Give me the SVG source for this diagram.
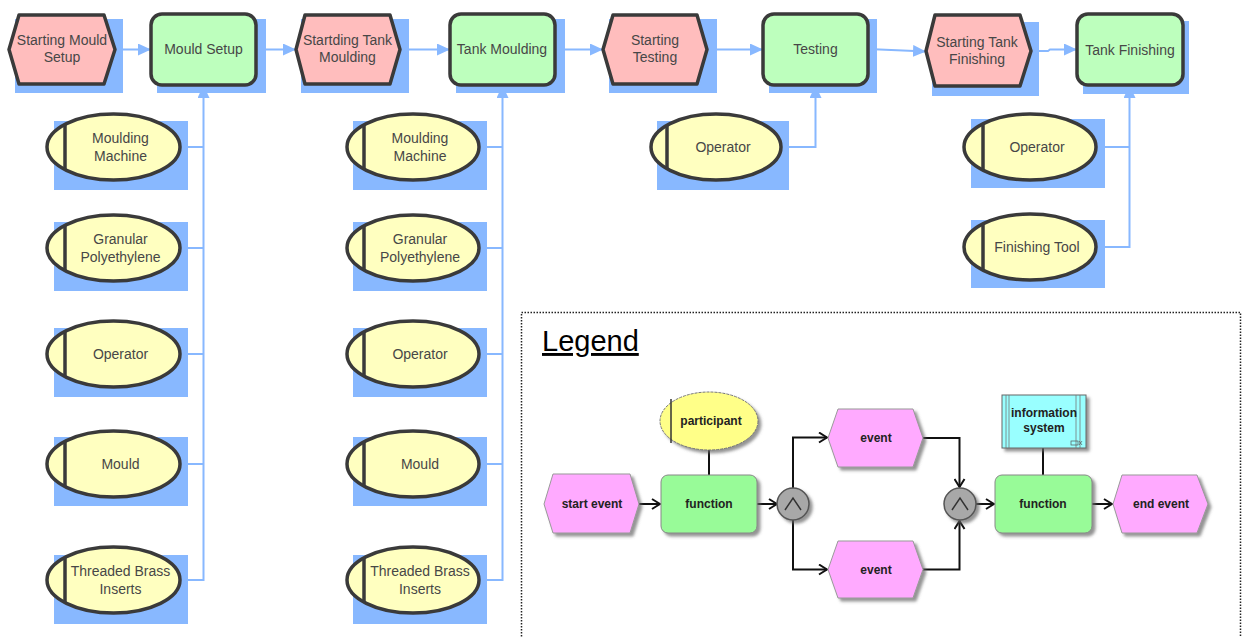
<svg xmlns="http://www.w3.org/2000/svg" width="1242" height="637" viewBox="0 0 1242 637">
<defs>
<style>
.sh{fill:#88B8FF}
.ev{fill:#FFBDBD;stroke:#3A3A3A;stroke-width:3.5;stroke-linejoin:round}
.fn{fill:#BDFFBD;stroke:#3A3A3A;stroke-width:3.5}
.rs{fill:#FFFFC0;stroke:#3A3A3A;stroke-width:3.5}
.bar{stroke:#3A3A3A;stroke-width:3.5}
.t{font-family:"Liberation Sans",Arial,sans-serif;font-size:14px;fill:#474747;text-anchor:middle}
.c{fill:none;stroke:#88B8FF;stroke-width:2}
.lt{font-family:"Liberation Sans",Arial,sans-serif;font-size:12px;font-weight:bold;fill:#222;text-anchor:middle}
.lc{fill:none;stroke:#111;stroke-width:2}
.lev{fill:#FFAAFF;stroke:#999;stroke-width:1;filter:url(#ds)}
.lfn{fill:#98FB98;stroke:#888;stroke-width:1;filter:url(#ds)}
.lgate{fill:#A8A8A8;stroke:#555;stroke-width:1.5;filter:url(#ds)}
.chev{fill:none;stroke:#333;stroke-width:1.5}
</style>
<filter id="ds" x="-20%" y="-20%" width="150%" height="150%">
<feDropShadow dx="3" dy="3" stdDeviation="1.5" flood-color="#666" flood-opacity="0.7"/>
</filter>
<marker id="ab" viewBox="0 0 13 12" refX="13" refY="6" markerWidth="13" markerHeight="12" markerUnits="userSpaceOnUse" orient="auto">
<path d="M0,0 L13,6 L0,12 Z" fill="#88B8FF"/>
</marker>
<marker id="ak" viewBox="0 0 10 12" refX="9" refY="6" markerWidth="10" markerHeight="12" markerUnits="userSpaceOnUse" orient="auto">
<path d="M1,1 L9,6 L1,11" fill="none" stroke="#111" stroke-width="2"/>
</marker>
</defs>
<rect width="1242" height="637" fill="#FFFFFF"/>

<g id="connectors">
<path class="c" d="M115,49.5 H151" marker-end="url(#ab)"/>
<path class="c" d="M256,49.5 H296" marker-end="url(#ab)"/>
<path class="c" d="M400,49.5 H450" marker-end="url(#ab)"/>
<path class="c" d="M555,49.5 H603" marker-end="url(#ab)"/>
<path class="c" d="M707,49.5 H763" marker-end="url(#ab)"/>
<path class="c" d="M868,49 L926,51.5" marker-end="url(#ab)"/>
<path class="c" d="M1031,51 H1048 L1050,49.5 H1077" marker-end="url(#ab)"/>
<path class="c" d="M180,147 H203.5"/>
<path class="c" d="M180,248 H203.5"/>
<path class="c" d="M180,354 H203.5"/>
<path class="c" d="M180,464 H203.5"/>
<path class="c" d="M180,580 H203.5 V85" marker-end="url(#ab)"/>
<path class="c" d="M479,147 H502.5"/>
<path class="c" d="M479,248 H502.5"/>
<path class="c" d="M479,354 H502.5"/>
<path class="c" d="M479,464 H502.5"/>
<path class="c" d="M479,580 H502.5 V85" marker-end="url(#ab)"/>
<path class="c" d="M782,147 H815.5 V85" marker-end="url(#ab)"/>
<path class="c" d="M1096,147 H1129.5"/>
<path class="c" d="M1096,247 H1129.5 V85" marker-end="url(#ab)"/>
</g>

<g id="n-starting-mould-setup">
<rect class="sh" x="15" y="19" width="108" height="74"/>
<path class="ev" d="M9,49.5 L19,15 L104,15 L115,49.5 L104,84 L19,84 Z"/>
<text class="t" x="62" y="45">Starting Mould</text>
<text class="t" x="62" y="62">Setup</text>
</g>
<g id="n-mould-setup">
<rect class="sh" x="157" y="19" width="109" height="74"/>
<rect class="fn" x="151" y="14" width="105" height="71" rx="11"/>
<text class="t" x="203.5" y="54">Mould Setup</text>
</g>
<g id="n-startding-tank-moulding">
<rect class="sh" x="301" y="19" width="108" height="74"/>
<path class="ev" d="M296,49.5 L305,15 L390,15 L400,49.5 L390,84 L305,84 Z"/>
<text class="t" x="347.5" y="45">Startding Tank</text>
<text class="t" x="347.5" y="62">Moulding</text>
</g>
<g id="n-tank-moulding">
<rect class="sh" x="456" y="19" width="109" height="74"/>
<rect class="fn" x="450" y="14" width="105" height="71" rx="11"/>
<text class="t" x="502" y="54">Tank Moulding</text>
</g>
<g id="n-starting-testing">
<rect class="sh" x="609" y="19" width="108" height="74"/>
<path class="ev" d="M603,49.5 L613,15 L697,15 L707,49.5 L697,84 L613,84 Z"/>
<text class="t" x="655" y="45">Starting</text>
<text class="t" x="655" y="62">Testing</text>
</g>
<g id="n-testing">
<rect class="sh" x="769" y="19" width="108" height="74"/>
<rect class="fn" x="763" y="14" width="105" height="71" rx="11"/>
<text class="t" x="815.5" y="54">Testing</text>
</g>
<g id="n-starting-tank-finishing">
<rect class="sh" x="932" y="22" width="107" height="74"/>
<path class="ev" d="M926,51 L935,15 L1020,15 L1031,51 L1020,86 L935,86 Z"/>
<text class="t" x="977" y="47">Starting Tank</text>
<text class="t" x="977" y="64">Finishing</text>
</g>
<g id="n-tank-finishing">
<rect class="sh" x="1083" y="21" width="106" height="73"/>
<rect class="fn" x="1077" y="14" width="106" height="71" rx="11"/>
<text class="t" x="1130" y="55">Tank Finishing</text>
</g>

<g id="n-ms-moulding-machine">
<rect class="sh" x="54" y="121" width="134" height="69"/>
<ellipse class="rs" cx="113.5" cy="147" rx="66.5" ry="33"/>
<line class="bar" x1="65" y1="124.5" x2="65" y2="169.5"/>
<text class="t" x="120.5" y="143">Moulding</text>
<text class="t" x="120.5" y="161">Machine</text>
</g>
<g id="n-ms-granular-polyethylene">
<rect class="sh" x="54" y="222" width="134" height="69"/>
<ellipse class="rs" cx="113.5" cy="248" rx="66.5" ry="33"/>
<line class="bar" x1="65" y1="225.5" x2="65" y2="270.5"/>
<text class="t" x="120.5" y="244">Granular</text>
<text class="t" x="120.5" y="262">Polyethylene</text>
</g>
<g id="n-ms-operator">
<rect class="sh" x="54" y="328" width="134" height="69"/>
<ellipse class="rs" cx="113.5" cy="354" rx="66.5" ry="33"/>
<line class="bar" x1="65" y1="331.5" x2="65" y2="376.5"/>
<text class="t" x="120.5" y="359">Operator</text>
</g>
<g id="n-ms-mould">
<rect class="sh" x="54" y="437" width="134" height="69"/>
<ellipse class="rs" cx="113.5" cy="464" rx="66.5" ry="33"/>
<line class="bar" x1="65" y1="441.5" x2="65" y2="486.5"/>
<text class="t" x="120.5" y="469">Mould</text>
</g>
<g id="n-ms-threaded-brass-inserts">
<rect class="sh" x="54" y="555" width="134" height="69"/>
<ellipse class="rs" cx="113.5" cy="580" rx="66.5" ry="33"/>
<line class="bar" x1="65" y1="557.5" x2="65" y2="602.5"/>
<text class="t" x="120.5" y="576">Threaded Brass</text>
<text class="t" x="120.5" y="594">Inserts</text>
</g>

<g id="n-tm-moulding-machine">
<rect class="sh" x="353" y="121" width="134" height="69"/>
<ellipse class="rs" cx="413" cy="147" rx="66" ry="33"/>
<line class="bar" x1="364" y1="124.5" x2="364" y2="169.5"/>
<text class="t" x="420" y="143">Moulding</text>
<text class="t" x="420" y="161">Machine</text>
</g>
<g id="n-tm-granular-polyethylene">
<rect class="sh" x="353" y="222" width="134" height="69"/>
<ellipse class="rs" cx="413" cy="248" rx="66" ry="33"/>
<line class="bar" x1="364" y1="225.5" x2="364" y2="270.5"/>
<text class="t" x="420" y="244">Granular</text>
<text class="t" x="420" y="262">Polyethylene</text>
</g>
<g id="n-tm-operator">
<rect class="sh" x="353" y="328" width="134" height="69"/>
<ellipse class="rs" cx="413" cy="354" rx="66" ry="33"/>
<line class="bar" x1="364" y1="331.5" x2="364" y2="376.5"/>
<text class="t" x="420" y="359">Operator</text>
</g>
<g id="n-tm-mould">
<rect class="sh" x="353" y="437" width="134" height="69"/>
<ellipse class="rs" cx="413" cy="464" rx="66" ry="33"/>
<line class="bar" x1="364" y1="441.5" x2="364" y2="486.5"/>
<text class="t" x="420" y="469">Mould</text>
</g>
<g id="n-tm-threaded-brass-inserts">
<rect class="sh" x="353" y="555" width="134" height="69"/>
<ellipse class="rs" cx="413" cy="580" rx="66" ry="33"/>
<line class="bar" x1="364" y1="557.5" x2="364" y2="602.5"/>
<text class="t" x="420" y="576">Threaded Brass</text>
<text class="t" x="420" y="594">Inserts</text>
</g>

<g id="n-testing-operator">
<rect class="sh" x="657" y="121" width="132" height="69"/>
<ellipse class="rs" cx="716" cy="147" rx="65" ry="33"/>
<line class="bar" x1="667" y1="125" x2="667" y2="169"/>
<text class="t" x="723" y="152">Operator</text>
</g>
<g id="n-tf-operator">
<rect class="sh" x="971" y="119" width="134" height="69"/>
<ellipse class="rs" cx="1030" cy="147" rx="66" ry="33"/>
<line class="bar" x1="983" y1="124" x2="983" y2="170"/>
<text class="t" x="1037" y="152">Operator</text>
</g>
<g id="n-tf-finishing-tool">
<rect class="sh" x="971" y="220" width="134" height="68"/>
<ellipse class="rs" cx="1030" cy="247" rx="66" ry="33"/>
<line class="bar" x1="983" y1="224" x2="983" y2="270"/>
<text class="t" x="1037" y="252">Finishing Tool</text>
</g>

<g id="legend">
<rect x="521.5" y="312.5" width="719" height="340" fill="none" stroke="#222" stroke-width="1.5" stroke-dasharray="1.5,1.5"/>
<text x="542" y="351" font-family="Liberation Sans, Arial, sans-serif" font-size="29" fill="#000" text-decoration="underline">Legend</text>
<g id="legend-connectors">
<path class="lc" d="M639,504 H660" marker-end="url(#ak)"/>
<path class="lc" d="M757,504 H777" marker-end="url(#ak)"/>
<path class="lc" d="M793,488 V437.5 H827" marker-end="url(#ak)"/>
<path class="lc" d="M793,520 V569.5 H827" marker-end="url(#ak)"/>
<path class="lc" d="M923,438 H959.5 V487" marker-end="url(#ak)"/>
<path class="lc" d="M923,569.5 H959.5 V521" marker-end="url(#ak)"/>
<path class="lc" d="M976,504 H994" marker-end="url(#ak)"/>
<path class="lc" d="M1092,504 H1112" marker-end="url(#ak)"/>
<path class="lc" d="M709,450 V475"/>
<path class="lc" d="M1043,448 V475"/>
</g>
<g id="l-start-event">
<path class="lev" d="M544,504 L553,474 L630,474 L639,504 L630,533 L553,533 Z"/>
<text class="lt" x="592" y="508">start event</text>
</g>
<g id="l-function-1">
<rect class="lfn" x="661" y="475" width="96" height="58" rx="7"/>
<text class="lt" x="709" y="508">function</text>
</g>
<g id="l-participant">
<ellipse cx="709" cy="421" rx="49" ry="29" fill="#FFFF88" stroke="#777" stroke-width="1" stroke-dasharray="3,1" filter="url(#ds)"/>
<line x1="671" y1="399" x2="671" y2="443" stroke="#333" stroke-width="1.5"/>
<text class="lt" x="711" y="425">participant</text>
</g>
<g id="l-gate-1">
<circle class="lgate" cx="793" cy="504" r="16"/>
<path class="chev" d="M785,510 L793,498 L801,510"/>
</g>
<g id="l-event-1">
<path class="lev" d="M828,438 L838,409 L913,409 L923,438 L913,467 L838,467 Z"/>
<text class="lt" x="876" y="442">event</text>
</g>
<g id="l-event-2">
<path class="lev" d="M828,569.5 L838,541 L913,541 L923,569.5 L913,598 L838,598 Z"/>
<text class="lt" x="876" y="573.5">event</text>
</g>
<g id="l-gate-2">
<circle class="lgate" cx="960" cy="504" r="16"/>
<path class="chev" d="M952,510 L960,498 L968,510"/>
</g>
<g id="l-information-system">
<rect x="1002" y="395" width="84" height="53" fill="#99FFFF" stroke="#666" stroke-width="1" filter="url(#ds)"/>
<g stroke="#777" stroke-width="0.8">
<line x1="1006" y1="395" x2="1006" y2="448"/>
<line x1="1009" y1="395" x2="1009" y2="448"/>
<line x1="1076" y1="395" x2="1076" y2="448"/>
<line x1="1080" y1="395" x2="1080" y2="448"/>
</g>
<rect x="1071" y="441" width="7" height="4" fill="none" stroke="#555" stroke-width="0.7"/>
<path d="M1079,441 L1082,445 M1082,441 L1079,445" stroke="#555" stroke-width="0.7"/>
<text class="lt" x="1044" y="417">information</text>
<text class="lt" x="1044" y="432">system</text>
</g>
<g id="l-function-2">
<rect class="lfn" x="995" y="475" width="97" height="58" rx="7"/>
<text class="lt" x="1043" y="508">function</text>
</g>
<g id="l-end-event">
<path class="lev" d="M1113,504 L1122,475 L1197,475 L1208,504 L1197,533 L1122,533 Z"/>
<text class="lt" x="1161" y="508">end event</text>
</g>
</g>
</svg>
